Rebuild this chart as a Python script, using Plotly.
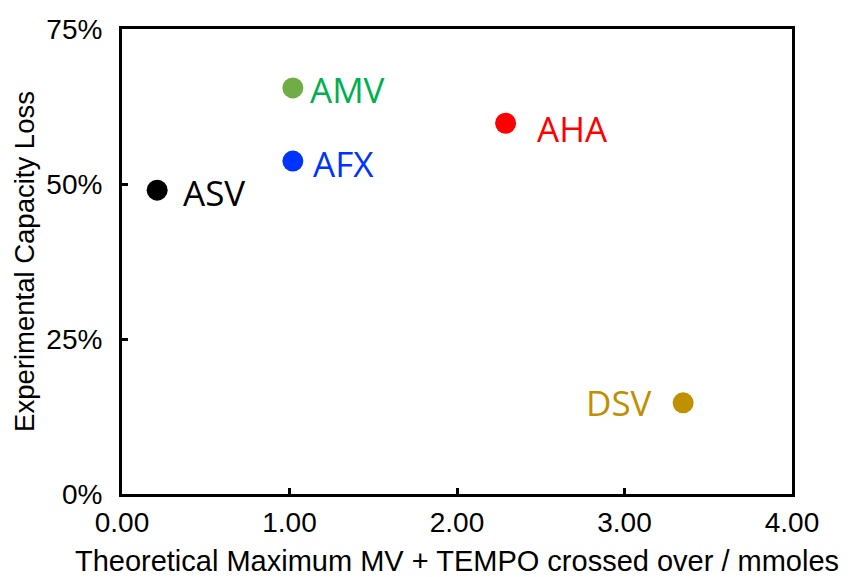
import plotly.graph_objects as go

# Data
names = ["ASV", "AMV", "AFX", "AHA", "DSV"]
crossover_mmol = [0.21, 1.02, 1.02, 2.29, 3.35]
capacity_loss = [0.49, 0.655, 0.537, 0.598, 0.147]
x_ticks = [0, 1, 2, 3, 4]
x_tick_labels = ["0.00", "1.00", "2.00", "3.00", "4.00"]
y_ticks = [0, 0.25, 0.5, 0.75]
y_tick_labels = ["0%", "25%", "50%", "75%"]

# Styles
marker_colors = ["#000000", "#70AD47", "#0033FF", "#FF0000", "#BF9000"]
text_colors = ["#000000", "#00B050", "#0033FF", "#FF0000", "#BF9000"]
label_anchor = ["left", "left", "left", "left", "right"]
label_xshift = [24, 15, 18, 29, -29]
label_yshift = [-2, -2, -2, -5, 0]

fig = go.Figure()
fig.add_trace(go.Scatter(
    x=crossover_mmol, y=capacity_loss, mode="markers",
    marker=dict(size=21, color=marker_colors, line=dict(width=0)),
    showlegend=False, hoverinfo="skip",
))

for i, n in enumerate(names):
    fig.add_annotation(
        x=crossover_mmol[i], y=capacity_loss[i], text=n, showarrow=False,
        xanchor=label_anchor[i], yanchor="middle",
        xshift=label_xshift[i], yshift=label_yshift[i],
        font=dict(family="Open Sans", size=35, color=text_colors[i]),
    )

axis_common = dict(
    showline=True, linecolor="black", linewidth=3, mirror=True,
    ticks="inside", ticklen=6, tickwidth=3, tickcolor="black",
    showgrid=False, zeroline=False, automargin=False,
    tickfont=dict(family="Liberation Sans", size=28, color="black"),
)

fig.update_xaxes(
    range=[0, 4], tickmode="array", tickvals=x_ticks, ticktext=x_tick_labels,
    title=dict(text="Theoretical Maximum MV + TEMPO crossed over / mmoles",
               font=dict(family="Liberation Sans", size=29, color="black"), standoff=18),
    ticklabelstandoff=1,
    **axis_common,
)
fig.update_yaxes(
    range=[0, 0.75], tickmode="array", tickvals=y_ticks, ticktext=y_tick_labels,
    title=dict(text="Experimental Capacity Loss",
               font=dict(family="Liberation Sans", size=27.5, color="black"), standoff=4),
    ticklabelstandoff=11,
    **axis_common,
)

fig.update_layout(
    width=857, height=577,
    margin=dict(l=122, r=65, t=29, b=83),
    plot_bgcolor="white", paper_bgcolor="white",
)

fig.write_html("out.html")
